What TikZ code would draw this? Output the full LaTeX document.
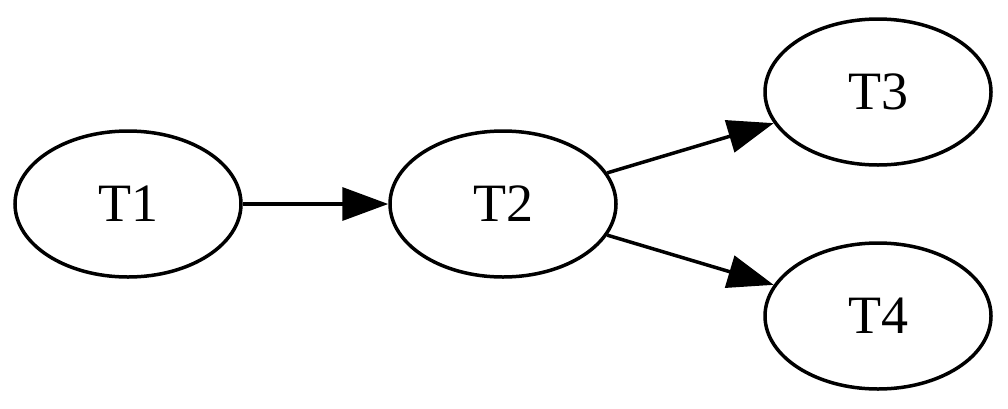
\documentclass[tikz,border=0pt]{standalone}
\usepackage{fontspec}
\setmainfont{Liberation Serif}
\usetikzlibrary{arrows.meta,shapes.geometric}
\begin{document}
\begin{tikzpicture}[x=1pt,y=-1pt,
  task/.style={draw,line width=3.5pt,ellipse,minimum width=226pt,minimum height=146pt,inner sep=0pt,font=\fontsize{54}{62}\selectfont},
  link/.style={line width=3.5pt,-{Triangle[length=46pt,width=33pt]}}]
\useasboundingbox (0,0) rectangle (1008,408);
\node[task] (t1) at (128,204) {T1};
\node[task] (t2) at (503,204) {T2};
\node[task] (t3) at (878,92) {T3};
\node[task] (t4) at (878,316) {T4};
\draw[link] (t1) -- (t2);
\draw[link] (t2) -- (t3);
\draw[link] (t2) -- (t4);
\end{tikzpicture}
\end{document}
